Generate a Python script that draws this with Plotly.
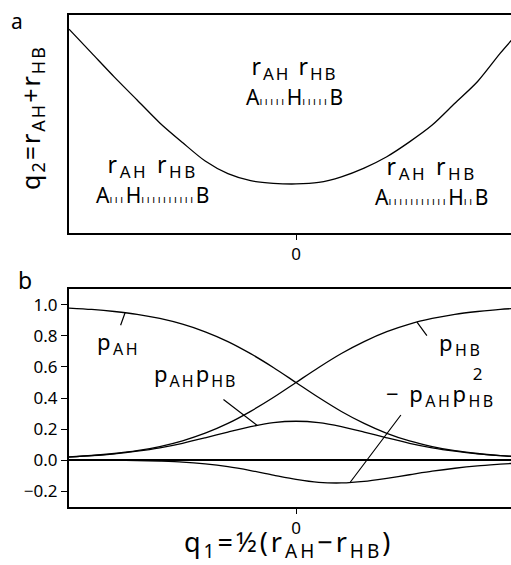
import plotly.graph_objects as go

# ---------------- data ----------------
q1 = [-1.0, -0.9, -0.8, -0.7, -0.6, -0.5, -0.4, -0.3, -0.2, -0.1, 0.0,
      0.1, 0.2, 0.3, 0.4, 0.5, 0.6, 0.7, 0.8, 0.9, 0.95]

# panel a: minimum-energy path q2(q1) (arbitrary units, 0 = bottom frame, 1 = top frame)
q2_path = [0.935, 0.825, 0.715, 0.610, 0.505, 0.415, 0.330, 0.272, 0.240, 0.228, 0.225,
           0.232, 0.258, 0.298, 0.350, 0.418, 0.495, 0.595, 0.695, 0.825, 0.885]

# panel b
p_AH = [0.980, 0.971, 0.958, 0.940, 0.913, 0.876, 0.827, 0.764, 0.686, 0.597, 0.500,
        0.403, 0.313, 0.236, 0.172, 0.123, 0.087, 0.060, 0.042, 0.028, 0.024]
p_HB = [0.020, 0.029, 0.042, 0.060, 0.087, 0.124, 0.173, 0.236, 0.314, 0.403, 0.500,
        0.597, 0.687, 0.764, 0.828, 0.877, 0.913, 0.940, 0.958, 0.972, 0.976]
p_AH_p_HB = [0.019, 0.028, 0.040, 0.057, 0.079, 0.108, 0.143, 0.180, 0.215, 0.241, 0.250,
             0.241, 0.215, 0.180, 0.143, 0.108, 0.079, 0.057, 0.040, 0.028, 0.023]
neg_p_AH_p_HB2 = [-0.000, -0.001, -0.002, -0.003, -0.007, -0.013, -0.025, -0.043, -0.068, -0.097, -0.125,
                  -0.144, -0.148, -0.138, -0.118, -0.095, -0.072, -0.053, -0.038, -0.027, -0.022]

y_tick_vals = [-0.2, 0.0, 0.2, 0.4, 0.6, 0.8, 1.0]
y_tick_text = ["\u22120.2", "0.0", "0.2", "0.4", "0.6", "0.8", "1.0"]
x_tick_vals = [0.0]
x_tick_text = ["0"]

# ---------------- figure ----------------
W, H = 511, 565
FONT = "Noto Sans"
BLACK = "#000000"


def P(px, py):
    return px / W, 1 - py / H


fig = go.Figure()

line = dict(color=BLACK, width=1.3, shape="spline", smoothing=0.8)
fig.add_trace(go.Scatter(x=q1, y=q2_path, mode="lines", line=line, xaxis="x", yaxis="y",
                         hoverinfo="skip"))
for ser in (p_AH, p_HB, p_AH_p_HB, neg_p_AH_p_HB2):
    fig.add_trace(go.Scatter(x=q1, y=ser, mode="lines", line=line, xaxis="x2", yaxis="y2",
                             hoverinfo="skip"))

xdom = [69 / W, 1.0]
xr = [-1.0, (511 - 296) / 227]
axis_common = dict(showline=True, linecolor=BLACK, linewidth=2, showgrid=False,
                   zeroline=False, ticks="outside", tickcolor=BLACK, tickwidth=1.3,
                   tickfont=dict(family=FONT, size=17, color=BLACK), automargin=False)

fig.update_layout(
    width=W, height=H,
    margin=dict(l=0, r=0, t=0, b=0),
    paper_bgcolor="white", plot_bgcolor="white",
    showlegend=False,
    font=dict(family=FONT, color=BLACK),
    xaxis=dict(axis_common, domain=xdom, range=xr, mirror=True, anchor="y",
               tickvals=x_tick_vals, ticktext=x_tick_text, ticklen=5),
    yaxis=dict(axis_common, domain=[1 - 233 / H, 1 - 15 / H], range=[0, 1], anchor="x",
               showticklabels=False, ticks=""),
    xaxis2=dict(axis_common, domain=xdom, range=xr, mirror=True, anchor="y2",
                tickvals=x_tick_vals, ticktext=x_tick_text, ticklen=5),
    yaxis2=dict(axis_common, domain=[1 - 507 / H, 1 - 289 / H], range=[-0.303, 1.103],
                anchor="x2", tickvals=y_tick_vals, ticktext=y_tick_text, ticklen=6,
                zeroline=True, zerolinecolor=BLACK, zerolinewidth=1.5),
)

ann = []


def text(px, py, s, size=22, angle=0, xanchor="center", ls=None, align="center"):
    x, y = P(px, py)
    if ls is not None:
        s = f"<span style='letter-spacing:{ls}px'>{s}</span>"
    ann.append(dict(x=x, y=y, xref="paper", yref="paper", text=s, showarrow=False,
                    xanchor=xanchor, yanchor="middle", textangle=angle, align=align,
                    font=dict(family=FONT, size=size, color=BLACK)))


def sub(s, size):
    return f"<sub><span style='font-size:{size}px'>{s}</span></sub>"


def bond(n):
    return "<span style='font-size:11px;letter-spacing:2.6px'>" + "\u0131" * n + "</span>"


def structure(n1, n2, ls=2.0):
    row1 = (f"<span style='font-size:23px;letter-spacing:{ls}px'>r" + sub("AH", 17)
            + " r" + sub("HB", 17) + "</span>")
    row2 = "<span style='font-size:21px'>A" + bond(n1) + "H" + bond(n2) + "B</span>"
    return row1 + "<br>" + row2


# panel labels
text(17, 21, "a", size=21)
text(25, 280, "b", size=23)

# axis titles
text(32, 118, "q" + sub("2", 18) + "=r" + sub("AH", 18) + "+r" + sub("HB", 18),
     size=25, angle=-90, ls=2)
text(288, 543, "q" + sub("1", 19) + "=\u00bd(r" + sub("AH", 19) + "\u2212r" + sub("HB", 19) + ")",
     size=27, ls=3)

# panel a structure labels
text(294, 80, structure(5, 5), size=23)
text(152, 178, structure(3, 10, 2.6), size=23)
text(431, 180, structure(11, 2, 2.6), size=23)

# panel b labels
text(118, 343, "p" + sub("AH", 16), size=22, ls=2.5)
text(195, 375, "p" + sub("AH", 16) + "p" + sub("HB", 16), size=22, ls=2)
text(460, 344, "p" + sub("HB", 16), size=22, ls=2.5)
text(498, 387,
     "2\u00a0\u00a0\u00a0<br><span style='font-size:22px;letter-spacing:2.5px'>\u2212 p"
     + sub("AH", 16) + "p" + sub("HB", 16) + "</span>",
     size=17, xanchor="right", align="right")


def leader(xd, yd, ax, ay):
    ann.append(dict(x=xd, y=yd, xref="x2", yref="y2", text="", showarrow=True,
                    arrowhead=0, arrowwidth=1.2, arrowcolor=BLACK, ax=ax, ay=ay,
                    standoff=0, startstandoff=0))


leader(-0.753, 0.95, -5, 14)               # p_AH
leader(-0.172, 0.224, -35, -27)            # p_AH p_HB
leader(0.533, 0.89, 11, 15)                # p_HB
leader(0.238, -0.145, 52, -69)             # -p_AH p_HB^2

fig.update_layout(annotations=ann)
fig.write_html("out.html", config={"displayModeBar": False},
               post_script="document.body.style.margin='0px';")
